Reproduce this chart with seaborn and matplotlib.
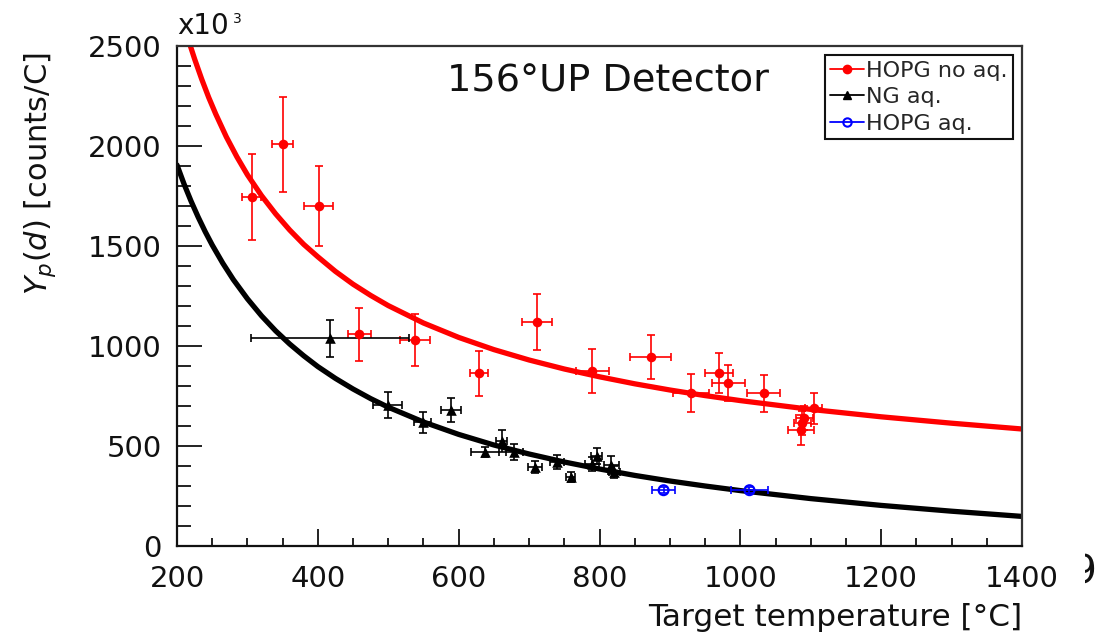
import matplotlib
matplotlib.use("Agg")
import matplotlib.pyplot as plt
import seaborn as sns
import pandas as pd
from matplotlib.lines import Line2D
from matplotlib.transforms import Bbox, TransformedBbox

# ---------------- data ----------------
# HOPG no aq. (red filled circles)
red_T    = [306, 350, 401, 459, 538, 629, 711, 790, 873, 930, 970, 983, 1033, 1086, 1088, 1091, 1104]
red_Y    = [1747, 2008, 1700, 1058, 1030, 863, 1118, 873, 943, 763, 863, 813, 763, 580, 615, 640, 689]
red_Terr = [13, 15, 20, 16, 21, 13, 21, 23, 29, 26, 20, 23, 24, 18, 12, 12, 12]
red_Yerr = [215, 237, 200, 134, 130, 112, 140, 110, 110, 95, 100, 90, 92, 75, 60, 60, 78]

# NG aq. (black triangles)
ng_T    = [417, 499, 549, 589, 637, 661, 679, 709, 740, 759, 789, 796, 817, 821]
ng_Y    = [1038, 703, 619, 679, 469, 524, 469, 394, 419, 344, 409, 449, 404, 369]
ng_Terr = [112, 21, 12, 14, 20, 8, 12, 10, 10, 6, 10, 8, 10, 8]
ng_Yerr = [92, 65, 52, 60, 25, 55, 40, 30, 35, 25, 35, 40, 45, 30]

# HOPG aq. (blue open circles)
hq_T    = [891, 1013]
hq_Y    = [279, 279]
hq_Terr = [16, 26]
hq_Yerr = [15, 15]

# fit curves
fit_red_T = [219, 225, 235, 245, 255, 270, 285, 300, 320, 340, 360, 380, 400, 425, 450, 475, 500,
             550, 600, 650, 700, 750, 800, 850, 900, 950, 1000, 1100, 1200, 1300, 1400]
fit_red_Y = [2500, 2435, 2335, 2243, 2160, 2046, 1946, 1856, 1752, 1661, 1580, 1508, 1446, 1373, 1309,
             1253, 1202, 1115, 1043, 982, 930, 885, 846, 811, 780, 752, 727, 683, 646, 614, 585]
fit_ng_T = [200, 210, 220, 230, 240, 250, 265, 280, 300, 320, 340, 360, 380, 400, 425, 450, 475, 500,
            550, 600, 650, 700, 750, 800, 850, 900, 950, 1000, 1100, 1200, 1300, 1400]
fit_ng_Y = [1905, 1810, 1724, 1645, 1572, 1505, 1414, 1332, 1236, 1151, 1076, 1010, 951, 897, 838, 785,
            737, 694, 620, 558, 505, 460, 420, 385, 353, 325, 300, 277, 237, 203, 174, 148]

labels = ["HOPG no aq.", "NG aq.", "HOPG aq."]
x_ticks = [200, 400, 600, 800, 1000, 1200, 1400]
y_ticks = [0, 500, 1000, 1500, 2000, 2500]

# ---------------- figure ----------------
sns.set_theme(style="white")
plt.rcParams["font.family"] = ["DejaVu Sans"]
plt.rcParams["mathtext.fontset"] = "dejavusans"

W, H = 1113, 636
fig = plt.figure(figsize=(W / 100, H / 100), dpi=100)
ax = fig.add_axes([177 / W, 1 - 546 / H, 845 / W, 500 / H])

red, blk, blu = "#ff0000", "#000000", "#0000ff"

fr = pd.DataFrame({"T": fit_red_T, "Y": fit_red_Y})
fn = pd.DataFrame({"T": fit_ng_T, "Y": fit_ng_Y})
sns.lineplot(data=fr, x="T", y="Y", ax=ax, color=red, lw=3.8, zorder=2, sort=True)
sns.lineplot(data=fn, x="T", y="Y", ax=ax, color=blk, lw=3.8, zorder=2, sort=True)
for ln in ax.get_lines():
    ln.set_solid_joinstyle("round")

ek = dict(fmt="none", capsize=2.8, capthick=1.2, elinewidth=1.2, zorder=3)
ax.errorbar(red_T, red_Y, xerr=red_Terr, yerr=red_Yerr, ecolor=red, **ek)
ax.errorbar(ng_T, ng_Y, xerr=ng_Terr, yerr=ng_Yerr, ecolor=blk, **ek)
ax.errorbar(hq_T, hq_Y, xerr=hq_Terr, yerr=hq_Yerr, ecolor=blu, **ek)

sns.scatterplot(x=red_T, y=red_Y, ax=ax, color=red, marker="o", s=48, edgecolor=red, linewidth=0, zorder=4)
sns.scatterplot(x=ng_T, y=ng_Y, ax=ax, color=blk, marker="^", s=58, edgecolor=blk, linewidth=0, zorder=4)
sns.scatterplot(x=hq_T, y=hq_Y, ax=ax, marker="o", s=50, facecolor="none", edgecolor=blu, linewidth=1.6, zorder=4)

ax.set_xlim(200, 1400)
ax.set_ylim(0, 2500)
ax.set_xticks(x_ticks)
ax.set_yticks(y_ticks)
ax.set_xticklabels([str(v) for v in x_ticks])
ax.set_yticklabels([str(v) for v in y_ticks])
ax.set_xticks(range(250, 1400, 50), minor=True)
ax.set_yticks(range(100, 2500, 100), minor=True)
ax.tick_params(axis="y", which="major", direction="in", length=18, width=1.3, labelsize=21, pad=11,
               left=True, right=False, colors="#111111")
ax.tick_params(axis="y", which="minor", direction="in", length=10, width=1.3, left=True, right=False, colors="#111111")
ax.tick_params(axis="x", which="major", direction="in", length=12, width=1.3, labelsize=21, pad=14,
               bottom=True, top=False, colors="#111111")
ax.tick_params(axis="x", which="minor", direction="in", length=6, width=1.3, bottom=True, top=False, colors="#111111")
for s in ax.spines.values():
    s.set_visible(True)
    s.set_color("#333333")
    s.set_linewidth(1.6)
ax.spines["left"].set_color("#111111")
ax.spines["bottom"].set_color("#111111")

ax.set_xlabel("Target temperature [°C]", fontsize=22.4, loc="right", color="#111111")
ax.xaxis.set_label_coords(1.0, -0.113)
ax.set_ylabel("")
fig.text(40 / W, 1 - 52 / H, r"$Y_{p}(d)$ [counts/C]", rotation=90, ha="center", va="top",
         fontsize=22, color="#111111")

ax.text(0.0, 1.012, "x10", transform=ax.transAxes, ha="left", va="bottom", fontsize=20, color="#111111")
fig.text(233 / W, 1 - 12 / H, "3", ha="left", va="top", fontsize=10, color="#111111")
ax.text(0.510, 0.908, "156°UP Detector", transform=ax.transAxes, ha="center", va="baseline",
        fontsize=27.5, color="#111111")

handles = [
    Line2D([], [], color=red, marker="o", ms=6, lw=1.3),
    Line2D([], [], color=blk, marker="^", ms=6, lw=1.3),
    Line2D([], [], color=blu, marker="o", ms=6, mfc="none", mew=1.5, lw=1.3),
]
leg = ax.legend(handles, labels, loc="upper right", bbox_to_anchor=(1013 / W, 1 - 55 / H),
                bbox_transform=fig.transFigure, borderaxespad=0, fontsize=16, frameon=True,
                fancybox=False, framealpha=1, edgecolor="#111111", handlelength=1.5,
                handletextpad=0.1, borderpad=0.25, labelspacing=0.3)
leg.get_frame().set_linewidth(1.5)

# clipped glyph fragment at the right edge of the original picture
t = fig.text(1072 / W, 1 - 583 / H, "9", fontsize=28, ha="left", va="baseline", color="#111111")
t.set_clip_box(TransformedBbox(Bbox([[1085 / W, 0], [1, 1]]), fig.transFigure))
t.set_clip_on(True)

fig.savefig("out.png", dpi=100)
